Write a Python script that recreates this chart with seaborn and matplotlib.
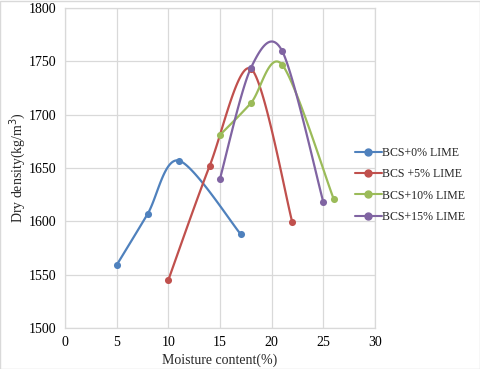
import numpy as np
import pandas as pd
import matplotlib
matplotlib.use("Agg")
import matplotlib.pyplot as plt
from matplotlib.lines import Line2D
from matplotlib.patches import Rectangle
import seaborn as sns

# ---- data ----
series_names = ["BCS+0% LIME", "BCS +5% LIME", "BCS+10% LIME", "BCS+15% LIME"]
moisture_0 = [5, 8, 11, 17]
density_0 = [1559, 1607, 1657, 1588]
moisture_5 = [10, 14, 18, 22]
density_5 = [1545, 1652, 1743, 1599]
moisture_10 = [15, 18, 21, 26]
density_10 = [1681, 1711, 1747, 1621]
moisture_15 = [15, 18, 21, 25]
density_15 = [1640, 1744, 1760, 1618]
x_ticks = [0, 5, 10, 15, 20, 25, 30]
y_ticks = [1500, 1550, 1600, 1650, 1700, 1750, 1800]

colors = ["#4F81BD", "#C0504D", "#9BBB59", "#8064A2"]

sns.set_theme(style="white")
plt.rcParams["font.family"] = ["Liberation Serif", "DejaVu Serif"]


def smooth(xs, ys, n=40, k=6.5):
    """Bezier smoothing (like spreadsheet 'smoothed line')."""
    P = np.column_stack([xs, ys]).astype(float)
    out = [P[0]]
    for i in range(len(P) - 1):
        p0 = P[i - 1] if i > 0 else P[i]
        p1, p2 = P[i], P[i + 1]
        p3 = P[i + 2] if i + 2 < len(P) else P[i + 1]
        c1 = p1 + (p2 - p0) / k
        c2 = p2 - (p3 - p1) / k
        t = np.linspace(0, 1, n)[1:, None]
        pts = ((1 - t) ** 3) * p1 + 3 * ((1 - t) ** 2) * t * c1 + 3 * (1 - t) * t ** 2 * c2 + t ** 3 * p2
        out.extend(pts)
    out = np.array(out)
    return out[:, 0], out[:, 1]


fig = plt.figure(figsize=(4.81, 3.69), dpi=100)
ax = fig.add_axes([65 / 481, 1 - 328 / 369, 310 / 481, 320 / 369])

all_x = [moisture_0, moisture_5, moisture_10, moisture_15]
all_y = [density_0, density_5, density_10, density_15]

for name, xs, ys, c in zip(series_names, all_x, all_y, colors):
    sx, sy = smooth(xs, ys)
    df_s = pd.DataFrame({"x": sx, "y": sy})
    sns.lineplot(data=df_s, x="x", y="y", sort=False, ax=ax, color=c, lw=1.6, estimator=None)
    df = pd.DataFrame({"x": xs, "y": ys})
    sns.scatterplot(data=df, x="x", y="y", ax=ax, color=c, s=26, edgecolor=c, linewidth=0, zorder=5)

ax.set_xlim(0, 30)
ax.set_ylim(1500, 1800)
ax.set_xticks(x_ticks)
ax.set_yticks(y_ticks)
ax.grid(True, color="#d9d9d9", lw=0.9)
for s in ax.spines.values():
    s.set_color("#d9d9d9")
    s.set_linewidth(0.9)
ax.tick_params(axis="both", length=0, labelsize=10, colors="#000000", pad=6)
ax.set_xlabel("Moisture content(%)", fontsize=10, labelpad=3)
ax.set_ylabel("Dry density(kg/m$^3$)", fontsize=10, labelpad=1)

handles = [Line2D([0], [0], color=c, lw=1.5, marker="o", markersize=5) for c in colors]
fig.legend(handles, series_names, loc="center left", bbox_to_anchor=(344 / 481, 1 - 185 / 369),
           frameon=False, fontsize=8.6, handlelength=2.3, handletextpad=0.0, labelspacing=0.78)

fig.patches.append(Rectangle((0.001, 0.001), 0.997, 0.996, transform=fig.transFigure,
                             fill=False, edgecolor="#d9d9d9", lw=1))

fig.savefig("out.png", dpi=100)
